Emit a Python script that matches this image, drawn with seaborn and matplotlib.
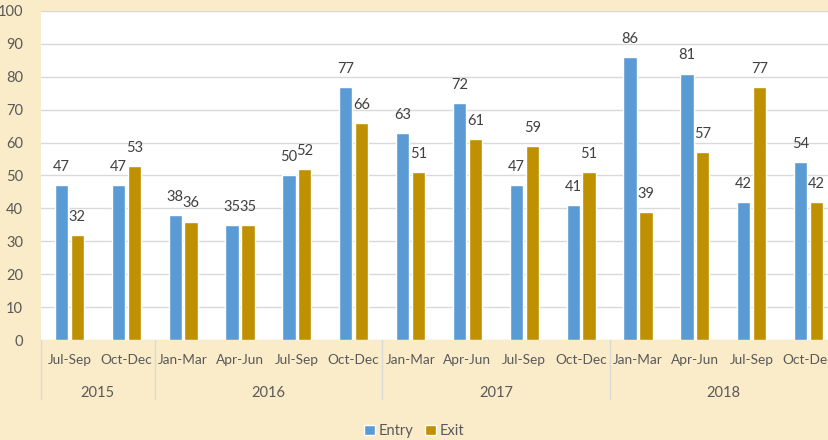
import matplotlib
matplotlib.use("Agg")
import matplotlib.pyplot as plt
import matplotlib.transforms as mtransforms
import pandas as pd
import seaborn as sns

years = ["2015", "2016", "2017", "2018"]
quarters = ["Jul-Sep", "Oct-Dec",
            "Jan-Mar", "Apr-Jun", "Jul-Sep", "Oct-Dec",
            "Jan-Mar", "Apr-Jun", "Jul-Sep", "Oct-Dec",
            "Jan-Mar", "Apr-Jun", "Jul-Sep", "Oct-Dec"]
quarter_years = ["2015"] * 2 + ["2016"] * 4 + ["2017"] * 4 + ["2018"] * 4
entry = [47, 47, 38, 35, 50, 77, 63, 72, 47, 41, 86, 81, 42, 54]
exit_ = [32, 53, 36, 35, 52, 66, 51, 61, 59, 51, 39, 57, 77, 42]

periods = [f"{y} {q}" for y, q in zip(quarter_years, quarters)]
df = pd.DataFrame({
    "period": periods * 2,
    "value": entry + exit_,
    "series": ["Entry"] * len(entry) + ["Exit"] * len(exit_),
})

bg = "#FAEBC9"
sns.set_theme(style="white")
plt.rcParams["font.family"] = ["Lato", "DejaVu Sans"]

fig = plt.figure(figsize=(8.29, 4.40), dpi=100, facecolor=bg)
ax = fig.add_axes([41 / 829, 100 / 440, 796 / 829, 329 / 440])
ax.set_facecolor("white")

sns.barplot(data=df, x="period", y="value", hue="series", order=periods,
            palette={"Entry": "#5B9BD5", "Exit": "#BF9000"}, saturation=1,
            width=0.56, gap=0.17, ax=ax, legend=True)

for cont in ax.containers:
    ax.bar_label(cont, padding=8, fontsize=10.5, color="#404040")

ax.set_ylim(0, 100)
ax.set_yticks(range(0, 101, 10))
ax.set_xlim(-0.5, len(periods) - 0.5)
ax.grid(axis="y", color="#D9D9D9", linewidth=1)
ax.set_axisbelow(True)
for s in ax.spines.values():
    s.set_visible(False)
ax.tick_params(axis="y", length=0, pad=13, labelsize=10.5, labelcolor="#595959")
ax.set_xticks(range(len(periods)))
ax.set_xticklabels(quarters)
ax.tick_params(axis="x", length=0, pad=10, labelsize=9.8, labelcolor="#595959")
ax.set_xlabel("")
ax.set_ylabel("")

# year group labels and separators
trans = mtransforms.blended_transform_factory(ax.transData, ax.transAxes)
start = 0
bounds = [-0.5]
for y in years:
    n = quarter_years.count(y)
    ax.text(start + (n - 1) / 2, -0.16, y, transform=trans, ha="center",
            va="center", fontsize=10.5, color="#595959")
    start += n
    bounds.append(start - 0.5)
for b in bounds:
    ax.plot([b, b], [0, -0.18], transform=trans, color="#D9D9D9",
            linewidth=1, clip_on=False)

handles, labels = ax.get_legend_handles_labels()
ax.get_legend().remove()
fig.legend(handles, labels, loc="lower center", bbox_to_anchor=(0.5, -0.025),
           ncol=2, frameon=False, fontsize=10.5, labelcolor="#595959",
           handlelength=0.7, handleheight=0.7, handletextpad=0.3, columnspacing=0.8)

fig.savefig("out.png", dpi=100, facecolor=bg)
